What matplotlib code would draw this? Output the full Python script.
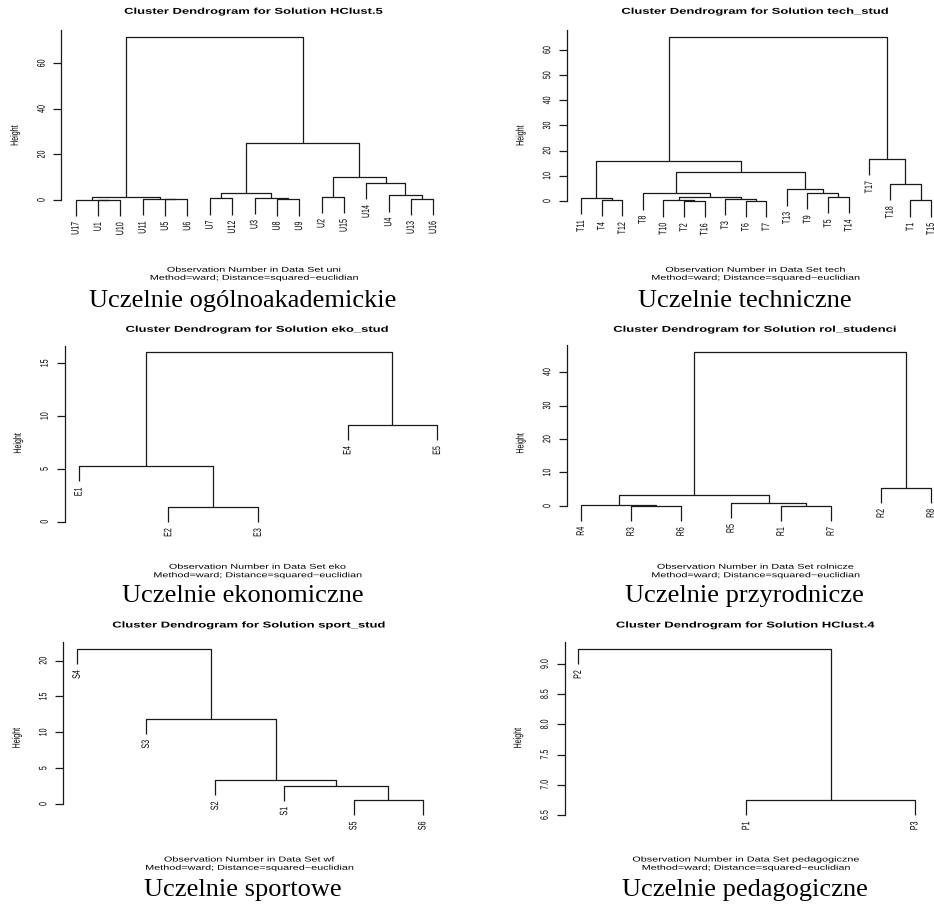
import numpy as np
import matplotlib
matplotlib.use("Agg")
import matplotlib.pyplot as plt
from matplotlib.patheffects import AbstractPathEffect
from matplotlib.transforms import Affine2D

# ---------------- data ----------------
uni_leaves = ["U17", "U1", "U10", "U11", "U5", "U6", "U7", "U12", "U3", "U8", "U9",
              "U2", "U15", "U14", "U4", "U13", "U16"]
uni_pairs = [("U1", "U10"), ("U17", 0), ("U5", "U6"), ("U11", 2), (1, 3),
             ("U7", "U12"), ("U8", "U9"), ("U3", 6), (5, 7),
             ("U2", "U15"), ("U13", "U16"), ("U4", 10), ("U14", 11), (9, 12),
             (8, 13), (4, 14)]
uni_heights = [0.05, 0.15, 0.25, 0.45, 1.45, 0.75, 0.3, 1.0, 3.2,
               1.46, 0.6, 2.05, 7.6, 9.95, 24.9, 71.4]
uni_ticks = [0, 20, 40, 60, 80]

tech_leaves = ["T11", "T4", "T12", "T8", "T10", "T2", "T16", "T3", "T6", "T7",
               "T13", "T9", "T5", "T14", "T17", "T18", "T1", "T15"]
tech_pairs = [("T4", "T12"), ("T11", 0), ("T2", "T16"), ("T10", 2), ("T6", "T7"),
              ("T3", 4), (3, 5), ("T8", 6), ("T5", "T14"), ("T9", 8), ("T13", 9),
              (7, 10), (1, 11), ("T1", "T15"), ("T18", 13), ("T17", 14), (12, 15)]
tech_heights = [0.53, 1.3, 0.05, 0.3, 0.12, 0.9, 1.7, 3.05, 1.6, 3.2, 4.6,
                11.5, 15.8, 0.25, 6.8, 16.8, 65.0]
tech_ticks = [0, 10, 20, 30, 40, 50, 60, 70]

eko_leaves = ["E1", "E2", "E3", "E4", "E5"]
eko_pairs = [("E2", "E3"), ("E1", 0), ("E4", "E5"), (1, 2)]
eko_heights = [1.42, 5.27, 9.19, 16.04]
eko_ticks = [0, 5, 10, 15, 20]

rol_leaves = ["R4", "R3", "R6", "R5", "R1", "R7", "R2", "R8"]
rol_pairs = [("R3", "R6"), ("R4", 0), ("R1", "R7"), ("R5", 2), (1, 3),
             ("R2", "R8"), (4, 5)]
rol_heights = [0.05, 0.2, 0.08, 1.0, 3.2, 5.5, 45.9]
rol_ticks = [0, 10, 20, 30, 40, 50]

sport_leaves = ["S4", "S3", "S2", "S1", "S5", "S6"]
sport_pairs = [("S5", "S6"), ("S1", 0), ("S2", 1), ("S3", 2), ("S4", 3)]
sport_heights = [0.51, 2.56, 3.30, 11.9, 21.63]
sport_ticks = [0, 5, 10, 15, 20, 25]

ped_leaves = ["P2", "P1", "P3"]
ped_pairs = [("P1", "P3"), ("P2", 0)]
ped_heights = [6.743, 9.248]
ped_ticks = [6.5, 7.0, 7.5, 8.0, 8.5, 9.0, 9.5]

solutions = ["HClust.5", "tech_stud", "eko_stud", "rol_studenci", "sport_stud", "HClust.4"]
datasets = ["uni", "tech", "eko", "rolnicze", "wf", "pedagogiczne"]
captions = ["Uczelnie ogólnoakademickie", "Uczelnie techniczne",
            "Uczelnie ekonomiczne", "Uczelnie przyrodnicze",
            "Uczelnie sportowe", "Uczelnie pedagogiczne"]

panels_data = [
    (uni_leaves, uni_pairs, uni_heights, uni_ticks),
    (tech_leaves, tech_pairs, tech_heights, tech_ticks),
    (eko_leaves, eko_pairs, eko_heights, eko_ticks),
    (rol_leaves, rol_pairs, rol_heights, rol_ticks),
    (sport_leaves, sport_pairs, sport_heights, sport_ticks),
    (ped_leaves, ped_pairs, ped_heights, ped_ticks),
]

# ---------------- layout (pixels) ----------------
W, H = 934, 906
# left, right, reference value, its pixel row, pixels per unit
panel_layout = [
    (61.4, 447.6, 0.0, 200.0, 2.278),
    (567.0, 945.0, 0.0, 201.0, 2.517),
    (64.5, 451.6, 0.0, 521.7, 10.56),
    (567.0, 945.0, 0.0, 506.0, 3.35),
    (63.2, 436.5, 0.0, 804.0, 7.167),
    (564.6, 928.2, 6.5, 815.0, 60.4),
]
# title y, subtitle line1 y, line2 y, caption baseline, ylabel y, axes bottom
row_layout = [
    (12.3, 270.3, 278.3, 307.0, 135.5, 240.0),
    (330.3, 567.3, 575.7, 601.7, 443.3, 545.0),
    (626.0, 860.0, 868.3, 896.0, 738.0, 840.0),
]
caption_x = [243.0, 744.5]

SX = 1.53          # horizontal stretch of the embedded R graphics
BASE = 5.1         # pt
LINE_COLOR = "#1a1a1a"


class StretchX(AbstractPathEffect):
    """Stretch text horizontally around its own centre."""
    def __init__(self, sx):
        super().__init__()
        self.sx = sx

    def draw_path(self, renderer, gc, tpath, affine, rgbFace=None):
        ext = tpath.transformed(affine).get_extents()
        cx = 0.5 * (ext.x0 + ext.x1)
        aff = affine + Affine2D().translate(-cx, 0).scale(self.sx, 1.0).translate(cx, 0)
        renderer.draw_path(gc, tpath, aff, rgbFace)


PE = [StretchX(SX)]


def fx(x):
    return x / W


def fy(y):
    return 1 - y / H


def dendro(leaves, pairs, heights):
    pos = {lab: i + 1 for i, lab in enumerate(leaves)}
    hang = 0.1 * (max(heights) - min(heights))
    node_x = []
    segs = []
    leaf_bottom = {}
    for k, (a, b) in enumerate(pairs):
        h = heights[k]
        pts = []
        for c in (a, b):
            if isinstance(c, str):
                x = pos[c]
                y = h - hang
                leaf_bottom[c] = y
            else:
                x = node_x[c]
                y = heights[c]
            pts.append((x, y))
        (xa, ya), (xb, yb) = pts
        segs.append(([xa, xa, xb, xb], [ya, h, h, yb]))
        node_x.append(0.5 * (xa + xb))
    return segs, leaf_bottom, pos


plt.rcParams["font.family"] = ["Liberation Sans", "DejaVu Sans"]
fig = plt.figure(figsize=(W / 100, H / 100), dpi=100)
fig.patch.set_facecolor("white")

for i, (leaves, pairs, heights, ticks) in enumerate(panels_data):
    row = i // 2
    col = i % 2
    left, right, ref_v, ref_px, scale = panel_layout[i]
    t_y, s1_y, s2_y, cap_y, ylab_y, bottom_px = row_layout[row]

    segs, leaf_bottom, pos = dendro(leaves, pairs, heights)
    n = len(leaves)
    hmax = max(heights)
    lo = min(leaf_bottom.values())
    ytop = hmax + 0.04 * (hmax - lo)
    top_px = ref_px - (ytop - ref_v) * scale
    ybot = ref_v - (bottom_px - ref_px) / scale

    ax = fig.add_axes([fx(left), fy(bottom_px), (right - left) / W, (bottom_px - top_px) / H])
    ax.set_xlim(1 - 0.04 * (n - 1), n + 0.04 * (n - 1))
    ax.set_ylim(ybot, ytop)
    ax.patch.set_alpha(0)

    for xs, ys in segs:
        ax.plot(xs, ys, color=LINE_COLOR, lw=0.9, solid_capstyle="butt", clip_on=False)

    for lab in leaves:
        ax.annotate(lab, (pos[lab], leaf_bottom[lab]), xytext=(0, -4.3),
                    textcoords="offset points", rotation=90, ha="center", va="top",
                    fontsize=BASE, color="black", path_effects=PE, annotation_clip=False)

    for s in ("top", "right", "bottom"):
        ax.spines[s].set_visible(False)
    ax.spines["left"].set_bounds(ticks[0], ytop)
    ax.spines["left"].set_linewidth(0.9)
    ax.spines["left"].set_color(LINE_COLOR)
    shown = [t for t in ticks if t <= ytop]
    ax.set_xticks([])
    ax.set_yticks(shown, [("%g" % t) if float(t).is_integer() else ("%.1f" % t) for t in shown])
    if i == 5:
        ax.set_yticklabels(["%.1f" % t for t in shown])
    ax.tick_params(axis="y", length=5.5, width=0.9, color=LINE_COLOR, pad=8.6,
                   labelsize=BASE, labelrotation=90)
    for tl in ax.get_yticklabels():
        tl.set_ha("center")
        tl.set_va("center")
        tl.set_rotation_mode("default")
        tl.set_path_effects(PE)

    cx = 0.5 * (left + right)
    fig.text(fx(cx), fy(t_y), "Cluster Dendrogram for Solution " + solutions[i],
             ha="center", va="center", fontsize=BASE * 1.2, fontweight="bold",
             path_effects=PE)
    fig.text(fx(cx), fy(s1_y), "Observation Number in Data Set " + datasets[i],
             ha="center", va="center", fontsize=BASE, path_effects=PE)
    fig.text(fx(cx), fy(s2_y), "Method=ward; Distance=squared\u2212euclidian",
             ha="center", va="center", fontsize=BASE, path_effects=PE)
    fig.text(fx(left - 46), fy(ylab_y), "Height", rotation=90, ha="center", va="center",
             fontsize=BASE, path_effects=PE)
    fig.text(fx(caption_x[col]), fy(cap_y), captions[i], ha="center", va="baseline",
             fontsize=19, family=["Liberation Serif", "DejaVu Serif"])

fig.savefig("out.png", dpi=100, facecolor="white")
